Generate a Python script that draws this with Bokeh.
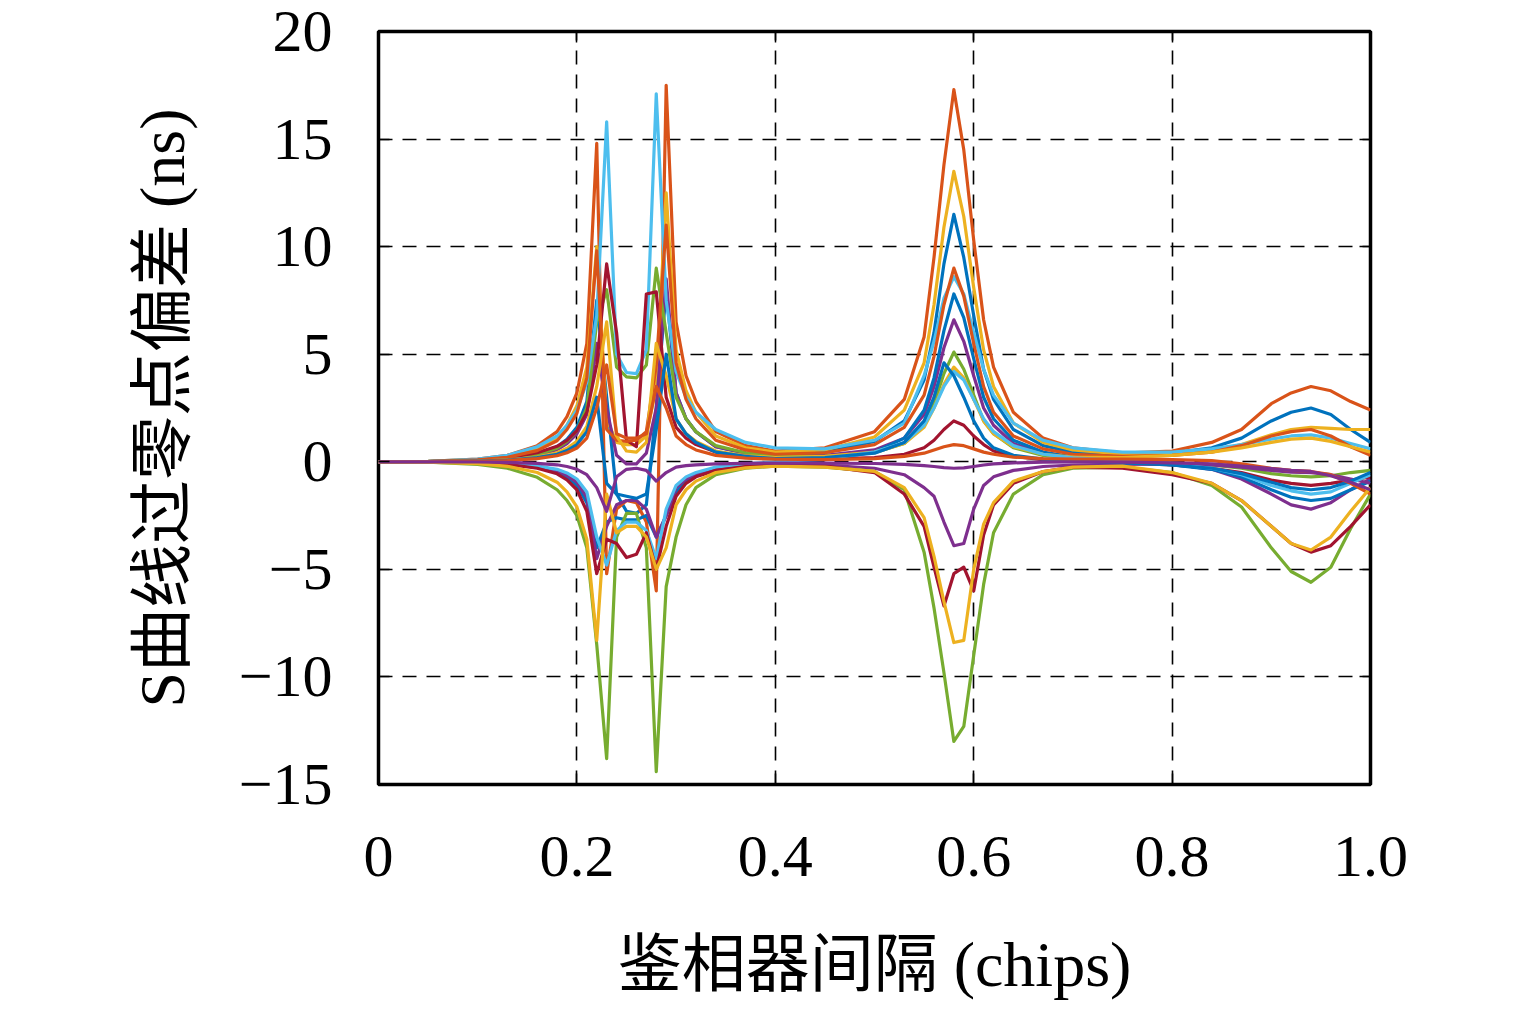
from bokeh.plotting import figure
from bokeh.models import Range1d, FixedTicker, LinearAxis, CustomJSTickFormatter
from bokeh.embed import file_html
from bokeh.resources import INLINE

# detector spacing (chips)
x = [0, 0.05, 0.1, 0.13, 0.16, 0.18, 0.19, 0.2, 0.21,
     0.22, 0.23, 0.24, 0.25, 0.26, 0.27, 0.28, 0.29,
     0.3, 0.31, 0.32, 0.34, 0.37, 0.4,
     0.45, 0.5, 0.53, 0.55, 0.56, 0.57, 0.58, 0.59, 0.6, 0.61, 0.62, 0.64, 0.67, 0.7,
     0.75, 0.8, 0.84, 0.87, 0.9, 0.92, 0.94, 0.96, 0.98, 1.0]

# zero-crossing bias of the S curve (ns), one list per case
s01 = [0, 0.01, 0.06, 0.15, 0.38, 0.7, 1.05, 1.6, 2.8,
       7.5, 3.0, -1.5, -2.3, -2.4, -2.0, 2.5, 8.0,
       3.2, 2.0, 1.4, 0.7, 0.4, 0.3,
       0.45, 0.95, 1.9, 3.8, 6.0, 9.2, 11.5, 9.5, 6.8, 4.3, 2.9, 1.5, 0.75, 0.45,
       0.3, 0.4, 0.65, 1.1, 1.9, 2.3, 2.5, 2.2, 1.5, 0.9]
s02 = [0, 0.02, 0.12, 0.3, 0.75, 1.4, 2.1, 3.2, 5.5,
       14.8, -5.2, -2.2, -1.8, -1.9, -2.8, -6.0, 17.5,
       6.5, 4.0, 2.8, 1.4, 0.75, 0.5,
       0.65, 1.4, 2.9, 5.8, 9.5, 13.8, 17.3, 14.5, 10.3, 6.6, 4.4, 2.3, 1.1, 0.65,
       0.4, 0.5, 0.9, 1.5, 2.7, 3.2, 3.5, 3.3, 2.8, 2.4]
s03 = [0, 0.016, 0.1, 0.24, 0.6, 1.1, 1.7, 2.6, 4.4,
       10.0, 2.0, 0.9, 0.8, 0.8, 1.2, 3.5, 12.5,
       5.2, 3.3, 2.3, 1.2, 0.65, 0.45,
       0.55, 1.15, 2.4, 4.6, 7.3, 10.9, 13.5, 11.4, 8.1, 5.2, 3.5, 1.8, 0.9, 0.55,
       0.35, 0.35, 0.5, 0.8, 1.25, 1.5, 1.6, 1.55, 1.5, 1.5]
s04 = [0, 0.008, 0.05, 0.12, 0.3, 0.56, 0.84, 1.3, 2.2,
       5.5, 2.5, 0.3, -0.1, -0.1, 0.4, 2.5, 8.5,
       3.2, 2.0, 1.4, 0.7, 0.4, 0.25,
       0.3, 0.55, 1.1, 2.2, 3.5, 5.3, 6.6, 5.6, 4.0, 2.5, 1.7, 0.85, 0.4, 0.22,
       0.1, -0.1, -0.35, -0.8, -1.5, -2.0, -2.2, -1.9, -1.3, -0.8]
s05 = [0, 0.009, 0.054, 0.14, 0.34, 0.63, 0.95, 1.45, 2.5,
       6.5, 8.0, 4.4, 3.95, 3.9, 4.5, 9.0, 6.0,
       3.0, 2.0, 1.4, 0.75, 0.42, 0.28,
       0.25, 0.42, 0.85, 1.7, 2.7, 4.1, 5.1, 4.3, 3.1, 1.9, 1.3, 0.65, 0.3, 0.17,
       0.08, -0.05, -0.15, -0.3, -0.55, -0.65, -0.7, -0.65, -0.5, -0.4]
s06 = [0, 0.02, 0.12, 0.3, 0.7, 1.2, 1.7, 2.4, 3.7,
       6.8, 15.8, 5.0, 4.15, 4.1, 5.2, 17.1, 7.5,
       4.2, 3.0, 2.3, 1.5, 0.9, 0.65,
       0.6, 1.0, 1.8, 4.0, 5.6, 7.6, 8.6, 7.8, 6.0, 4.3, 3.1, 1.8, 1.0, 0.65,
       0.45, 0.45, 0.6, 0.8, 1.05, 1.2, 1.25, 1.1, 0.85, 0.6]
s07 = [0, 0.012, 0.07, 0.18, 0.42, 0.72, 1.0, 1.45, 2.3,
       4.5, 9.2, 6.0, 1.0, 0.7, 7.8, 7.9, 3.0,
       1.6, 1.1, 0.8, 0.45, 0.25, 0.15,
       0.12, 0.2, 0.35, 0.65, 1.0, 1.5, 1.9, 1.7, 1.2, 0.8, 0.5, 0.25, 0.1, 0.05,
       -0.05, -0.15, -0.3, -0.5, -0.85, -1.0, -1.1, -1.0, -0.85, -0.7]
s08 = [0, -0.007, -0.04, -0.1, -0.26, -0.5, -0.75, -1.1, -1.9,
       -4.0, -2.8, -2.6, -2.7, -2.7, -2.5, -3.5, -2.5,
       -1.4, -0.9, -0.65, -0.35, -0.15, -0.05,
       0.1, 0.45, 1.1, 2.4, 3.9, 6.1, 7.8, 6.7, 4.8, 3.0, 2.0, 1.0, 0.45, 0.22,
       0.05, -0.15, -0.35, -0.7, -1.3, -1.65, -1.8, -1.7, -1.3, -0.9]
s09 = [0, 0.014, 0.085, 0.21, 0.52, 0.98, 1.5, 2.25, 3.9,
       9.8, 1.5, 1.0, 0.95, 1.0, 1.4, 4.5, 11.0,
       4.6, 2.9, 2.0, 1.0, 0.55, 0.35,
       0.42, 0.8, 1.6, 3.1, 4.9, 7.3, 9.0, 7.7, 5.5, 3.5, 2.3, 1.2, 0.6, 0.35,
       0.25, 0.3, 0.45, 0.75, 1.2, 1.4, 1.5, 1.2, 0.7, 0.3]
s10 = [0, 0.006, 0.036, 0.09, 0.22, 0.42, 0.63, 0.95, 1.65,
       3.5, 6.5, 1.2, 0.5, 0.45, 0.9, 5.5, 4.0,
       2.0, 1.3, 0.95, 0.5, 0.28, 0.2,
       0.25, 0.45, 0.85, 1.6, 2.5, 3.6, 4.4, 3.9, 2.9, 1.9, 1.3, 0.7, 0.35, 0.22,
       0.2, 0.3, 0.45, 0.65, 0.9, 1.05, 1.1, 0.95, 0.7, 0.45]
s11 = [0, -0.006, -0.036, -0.09, -0.22, -0.42, -0.63, -0.95, -1.65,
       -4.5, -3.0, -2.0, -1.8, -1.8, -2.2, -3.5, -2.5,
       -1.2, -0.8, -0.55, -0.3, -0.17, -0.12,
       -0.15, -0.3, -0.6, -1.2, -1.6, -2.8, -3.9, -3.8, -2.2, -1.1, -0.7, -0.4, -0.22, -0.15,
       -0.12, -0.1, -0.15, -0.25, -0.4, -0.48, -0.5, -0.6, -0.8, -1.0]
s12 = [0, -0.02, -0.12, -0.3, -0.72, -1.3, -1.8, -2.5, -4.0,
       -8.5, -13.8, -3.5, -2.4, -2.4, -4.0, -14.4, -5.8,
       -3.5, -2.0, -1.2, -0.6, -0.3, -0.2,
       -0.25, -0.45, -1.3, -4.2, -6.8, -9.8, -13.0, -12.3, -9.0, -5.7, -3.3, -1.5, -0.6, -0.3,
       -0.25, -0.5, -1.1, -2.1, -4.0, -5.1, -5.6, -4.9, -3.1, -1.5]
s13 = [0, -0.005, -0.03, -0.075, -0.19, -0.35, -0.52, -0.8, -1.4,
       -3.5, -4.8, -3.2, -2.8, -2.8, -3.2, -4.5, -2.2,
       -1.1, -0.7, -0.5, -0.25, -0.1, 0.0,
       0.15, 0.45, 0.9, 1.7, 2.5, 3.5, 4.2, 3.8, 2.9, 2.0, 1.4, 0.75, 0.35, 0.18,
       0.05, -0.1, -0.3, -0.6, -1.1, -1.35, -1.5, -1.4, -1.0, -0.6]
s14 = [0, -0.008, -0.05, -0.12, -0.3, -0.56, -0.84, -1.3, -2.3,
       -5.2, -3.6, -3.8, -4.45, -4.3, -3.3, -5.0, -3.0,
       -1.6, -1.0, -0.7, -0.4, -0.22, -0.15,
       -0.2, -0.5, -1.5, -3.0, -4.9, -6.7, -5.2, -4.9, -6.0, -3.4, -2.0, -1.0, -0.45, -0.25,
       -0.3, -0.6, -1.0, -1.8, -3.0, -3.8, -4.2, -3.9, -3.0, -2.0]
s15 = [0, 0.005, 0.03, 0.075, 0.19, 0.35, 0.52, 0.8, 1.4,
       3.0, -1.0, -1.5, -1.6, -1.7, -1.5, 1.5, 5.0,
       2.0, 1.3, 0.9, 0.45, 0.25, 0.15,
       0.2, 0.4, 0.9, 1.9, 3.0, 4.6, 4.0, 3.0, 1.9, 1.1, 0.65, 0.3, 0.12, 0.05,
       -0.05, -0.15, -0.3, -0.55, -0.95, -1.2, -1.3, -1.2, -0.9, -0.5]
s16 = [0, 0.004, 0.024, 0.06, 0.15, 0.28, 0.42, 0.64, 1.1,
       2.5, 4.5, 1.3, 1.1, 1.1, 1.3, 3.5, 2.5,
       1.2, 0.8, 0.55, 0.3, 0.17, 0.12,
       0.1, 0.15, 0.25, 0.4, 0.55, 0.7, 0.8, 0.75, 0.6, 0.45, 0.35, 0.22, 0.15, 0.12,
       0.12, 0.1, 0.05, -0.1, -0.3, -0.4, -0.45, -0.6, -1.0, -1.5]
s17 = [0, -0.014, -0.085, -0.21, -0.5, -0.95, -1.4, -2.1, -3.6,
       -8.3, -1.5, -3.3, -3.0, -3.0, -3.5, -5.0, -4.0,
       -2.0, -1.3, -0.9, -0.5, -0.28, -0.2,
       -0.25, -0.45, -1.2, -2.6, -4.4, -6.5, -8.4, -8.3, -5.0, -2.9, -1.9, -0.9, -0.45, -0.25,
       -0.2, -0.5, -1.0, -1.8, -3.0, -3.8, -4.1, -3.5, -2.3, -1.2]
s18 = [0, 0.0, -0.01, -0.03, -0.07, -0.14, -0.22, -0.35, -0.6,
       -1.2, -2.3, -0.7, -0.35, -0.3, -0.4, -0.9, -0.5,
       -0.25, -0.18, -0.14, -0.1, -0.07, -0.06,
       -0.06, -0.08, -0.12, -0.18, -0.22, -0.27, -0.3, -0.28, -0.22, -0.15, -0.1, -0.05, -0.02, -0.01,
       -0.02, -0.05, -0.1, -0.2, -0.32, -0.4, -0.45, -0.65, -0.95, -1.3]

series = [s01, s02, s03, s04, s05, s06, s07, s08, s09,
          s10, s11, s12, s13, s14, s15, s16, s17, s18]

x_ticks = [0, 0.2, 0.4, 0.6, 0.8, 1.0]
y_ticks = [-15, -10, -5, 0, 5, 10, 15, 20]

palette = ["#0072BD", "#D95319", "#EDB120", "#7E2F8E",
           "#77AC30", "#4DBEEE", "#A2142F"]

SERIF = "Liberation Serif, Noto Sans CJK SC"

p = figure(width=1515, height=1002,
           x_range=Range1d(0, 1), y_range=Range1d(-15, 20),
           output_backend="svg", toolbar_location=None,
           min_border_left=378, min_border_top=31,
           min_border_right=145, min_border_bottom=218)
p.background_fill_color = "white"
p.border_fill_color = "white"
p.outline_line_color = "black"
p.outline_line_width = 3.5

for i, ys in enumerate(series):
    p.line(x, ys, line_color=palette[i % 7], line_width=3.2, line_join="round")

xt = FixedTicker(ticks=x_ticks)
yt = FixedTicker(ticks=y_ticks)

xfmt = CustomJSTickFormatter(code='return tick == 0 ? "0" : tick.toFixed(1);')
yfmt = CustomJSTickFormatter(code='return tick < 0 ? "\\u2212" + Math.abs(tick) : "" + tick;')

xa = p.below[0]
ya = p.left[0]
for ax in (xa, ya):
    ax.axis_line_color = None
    ax.major_tick_in = 11
    ax.major_tick_out = 0
    ax.major_tick_line_color = "black"
    ax.major_tick_line_width = 1.5
    ax.minor_tick_line_color = None
    ax.major_label_text_font = SERIF
    ax.major_label_text_font_size = "60px"
    ax.major_label_text_color = "black"
    ax.axis_label_text_font = SERIF
    ax.axis_label_text_font_size = "64px"
    ax.axis_label_text_font_style = "normal"
    ax.axis_label_text_color = "black"

xa.ticker = xt
xa.formatter = xfmt
xa.major_label_standoff = 52
xa.axis_label = "鉴相器间隔 (chips)"
xa.axis_label_standoff = 50

ya.ticker = yt
ya.formatter = yfmt
ya.major_label_standoff = 46
ya.axis_label = "S曲线过零点偏差 (ns)"
ya.axis_label_standoff = 38

for g, t in ((p.xgrid[0], xt), (p.ygrid[0], yt)):
    g.ticker = t
    g.grid_line_color = "black"
    g.grid_line_width = 1.6
    g.grid_line_dash = "14 10"

for loc, t in (("right", yt), ("above", xt)):
    ax = LinearAxis(ticker=t, axis_line_color=None, major_tick_in=11,
                    major_tick_out=0, major_tick_line_width=1.5,
                    minor_tick_line_color=None,
                    major_label_text_font_size="0px",
                    major_label_text_color=None)
    p.add_layout(ax, loc)

open("out.html", "w").write(file_html(p, INLINE))
